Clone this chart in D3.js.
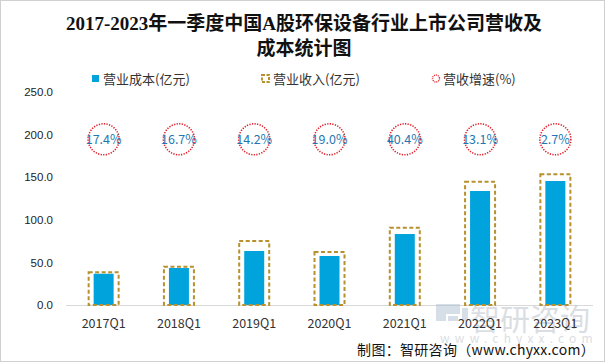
<!DOCTYPE html>
<html>
<head>
<meta charset="utf-8">
<script src="https://cdn.jsdelivr.net/npm/d3@7"></script>
<style>
  body { margin: 0; background: #fff; }
  text { font-family: "Noto Sans CJK SC", "Noto Sans", sans-serif; }
</style>
</head>
<body>
<svg id="vis" width="606" height="363"></svg>
<script>
const svg = d3.select("#vis");

// data
const categories = ["2017Q1", "2018Q1", "2019Q1", "2020Q1", "2021Q1", "2022Q1", "2023Q1"];
const costValues = [36.7, 43.4, 63.4, 57.5, 83.3, 133.8, 145.5];      // 营业成本(亿元)
const revenueValues = [38.3, 45.0, 75.1, 62.3, 90.7, 144.7, 153.5];   // 营业收入(亿元)
const growthLabels = ["17.4%", "16.7%", "14.2%", "19.0%", "40.4%", "13.1%", "2.7%"]; // 营收增速(%)
const yTicks = [0, 50, 100, 150, 200, 250];

const BLUE = "#00a3dc";
const GOLD = "#b8902c";
const RED = "#e2222c";

const x = d3.scaleBand().domain(categories).range([66, 593]);
const y = d3.scaleLinear().domain([0, 250]).range([305, 92]);

// outer border
svg.append("rect")
  .attr("x", 0.5).attr("y", 0.5)
  .attr("width", 604).attr("height", 361)
  .attr("fill", "none")
  .attr("stroke", "#a0a0a0")
  .attr("stroke-dasharray", "1,1");

// title
const title = svg.append("text")
  .attr("text-anchor", "middle")
  .attr("font-weight", "bold")
  .attr("font-size", 19)
  .attr("fill", "#111")
  .style("font-family", "'Liberation Serif', 'Noto Sans CJK SC', serif");
title.append("tspan").attr("x", 304).attr("y", 30).text("2017-2023年一季度中国A股环保设备行业上市公司营收及");
title.append("tspan").attr("x", 304).attr("y", 55).text("成本统计图");

// legend
const lg = svg.append("g").attr("font-size", 13).attr("fill", "#333");
lg.append("rect").attr("x", 92).attr("y", 75).attr("width", 7).attr("height", 7).attr("fill", BLUE);
lg.append("text").attr("x", 103).attr("y", 83.5).text("营业成本(亿元)");
lg.append("rect").attr("x", 262).attr("y", 75).attr("width", 7).attr("height", 7)
  .attr("fill", "none").attr("stroke", GOLD).attr("stroke-width", 2).attr("stroke-dasharray", "3,1.5");
lg.append("text").attr("x", 273).attr("y", 83.5).text("营业收入(亿元)");
lg.append("circle").attr("cx", 436).attr("cy", 78.5).attr("r", 3.5)
  .attr("fill", "none").attr("stroke", RED).attr("stroke-width", 1.4).attr("stroke-dasharray", "1,1");
lg.append("text").attr("x", 443).attr("y", 83.5).text("营收增速(%)");

// y axis labels
svg.append("g")
  .attr("transform", "translate(53,0)")
  .call(d3.axisLeft(y).tickValues(yTicks).tickFormat(d3.format(".1f")).tickSize(0).tickPadding(0))
  .call(g => g.select(".domain").remove())
  .call(g => g.selectAll("text").attr("font-size", 11.5).attr("fill", "#222")
    .style("font-family", "'Liberation Sans', 'Noto Sans', sans-serif"));

// baseline
svg.append("line")
  .attr("x1", 66).attr("x2", 593)
  .attr("y1", y(0) + 0.5).attr("y2", y(0) + 0.5)
  .attr("stroke", "#d9d9d9");

// watermark
const wm = svg.append("g").attr("opacity", 0.5);
wm.append("path")
  .attr("d", "M436,304 h24 v10 h-14 v7 h-10 z M450,304 h10 v10 h-10 z M462,308 h6 v13 h-6 z M448,316 h10 v5 h-10 z")
  .attr("fill", "#aebed3");
wm.append("text").attr("x", 470).attr("y", 330).attr("font-size", 30)
  .attr("fill", "#b7bfc9").text("智研咨询");
wm.append("text").attr("x", 440).attr("y", 343).attr("font-size", 12)
  .attr("letter-spacing", 5.2).attr("fill", "#b7bfc9").text("www.chyxx.com");

// cost bars
svg.selectAll(".cost").data(costValues).join("rect")
  .attr("class", "cost")
  .attr("x", (d, i) => x(categories[i]) + x.bandwidth() / 2 - 10)
  .attr("width", 20)
  .attr("y", d => y(d))
  .attr("height", d => y(0) - y(d))
  .attr("fill", BLUE);

// revenue boxes (dashed, no fill)
svg.selectAll(".rev").data(revenueValues).join("rect")
  .attr("class", "rev")
  .attr("x", (d, i) => x(categories[i]) + x.bandwidth() / 2 - 15)
  .attr("width", 30)
  .attr("y", d => y(d))
  .attr("height", d => y(0) - y(d))
  .attr("fill", "none")
  .attr("stroke", GOLD)
  .attr("stroke-width", 2)
  .attr("stroke-dasharray", "4,2.5");

// growth circles
const gy = y(194.5);
const gg = svg.selectAll(".growth").data(growthLabels).join("g")
  .attr("class", "growth")
  .attr("transform", (d, i) => `translate(${x(categories[i]) + x.bandwidth() / 2},${gy})`);
gg.append("circle")
  .attr("r", 15.5)
  .attr("fill", "none")
  .attr("stroke", RED)
  .attr("stroke-width", 1.6)
  .attr("stroke-dasharray", "1.3,1.3");
gg.append("text")
  .attr("text-anchor", "middle")
  .attr("y", 4.5)
  .attr("font-size", 12.5)
  .attr("fill", "#1f78b4")
  .text(d => d);

// category labels
svg.selectAll(".cat").data(categories).join("text")
  .attr("class", "cat")
  .attr("x", d => x(d) + x.bandwidth() / 2)
  .attr("y", 328)
  .attr("text-anchor", "middle")
  .attr("font-size", 12.5)
  .attr("fill", "#333")
  .text(d => d);

// footer
svg.append("text")
  .attr("x", 595).attr("y", 355)
  .attr("text-anchor", "end")
  .attr("font-size", 14)
  .attr("letter-spacing", 0.3)
  .attr("fill", "#111")
  .text("制图：智研咨询（www.chyxx.com）");
</script>
</body>
</html>
